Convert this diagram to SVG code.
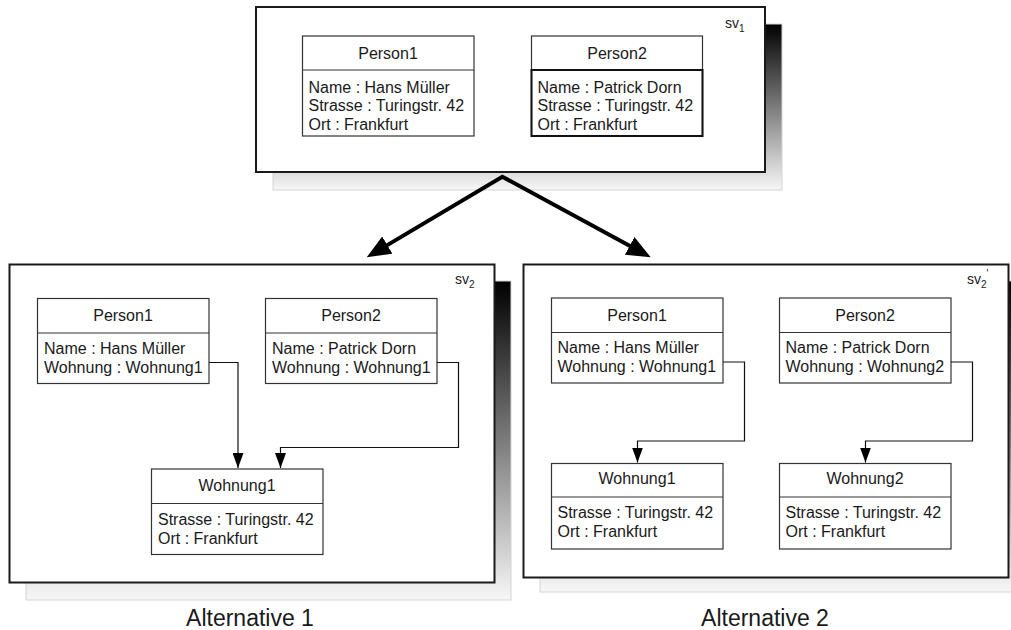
<svg xmlns="http://www.w3.org/2000/svg" width="1011" height="630" viewBox="0 0 1011 630">
  <style>
    text { font-family: "Liberation Sans", Arial, sans-serif; fill: #1a1a1a; }
    .t { font-size: 16px; }
    .c { text-anchor: middle; }
    .sv { font-size: 14px; }
    .sub { font-size: 10px; }
    .alt { font-size: 23px; text-anchor: middle; }
    .frame { fill: #fff; stroke: #1a1a1a; stroke-width: 2; }
    .shadow { fill: url(#shade); stroke: #d4d4d4; stroke-width: 1; }
    .box { fill: #fff; stroke: #333; stroke-width: 1.2; }
    .sel { fill: none; stroke: #111; stroke-width: 2; }
    .link { fill: none; stroke: #111; stroke-width: 1.2; marker-end: url(#head); }
    .big { fill: none; stroke: #000; stroke-width: 4; stroke-linejoin: miter; marker-start: url(#bighead); marker-end: url(#bighead); }
  </style>
  <defs>
    <linearGradient id="shade" x1="0" y1="0" x2="0" y2="1">
      <stop offset="0" stop-color="#000"/>
      <stop offset="1" stop-color="#f7f7f7"/>
    </linearGradient>
    <marker id="head" markerUnits="userSpaceOnUse" viewBox="0 0 15 11" markerWidth="15" markerHeight="11" refX="15" refY="5.5" orient="auto">
      <path d="M0,0 L15,5.5 L0,11 z" fill="#000"/>
    </marker>
    <marker id="bighead" markerUnits="userSpaceOnUse" viewBox="0 0 24 20" markerWidth="24" markerHeight="20" refX="2" refY="10" orient="auto-start-reverse">
      <path d="M0,0 L24,10 L0,20 z" fill="#000"/>
    </marker>
  </defs>

  <!-- state sv1 -->
  <g id="sv1">
    <rect class="shadow" x="273" y="24" width="509" height="166"/>
    <rect class="frame" x="256" y="7" width="509" height="165"/>
    <text class="sv" x="725" y="28">sv<tspan class="sub" dy="4">1</tspan></text>
  </g>
  <g id="sv1-person1">
    <rect class="box" x="302.5" y="36" width="171.5" height="100"/>
    <line class="box" x1="302.5" y1="70" x2="474" y2="70"/>
    <text class="t c" x="388" y="58.5">Person1</text>
    <text class="t" x="308.5" y="92.5">Name : Hans Müller</text>
    <text class="t" x="308.5" y="111">Strasse : Turingstr. 42</text>
    <text class="t" x="308.5" y="129.5">Ort : Frankfurt</text>
  </g>
  <g id="sv1-person2">
    <rect class="box" x="531.5" y="36" width="171" height="100"/>
    <rect class="sel" x="531.5" y="70" width="171" height="66"/>
    <text class="t c" x="617" y="58.5">Person2</text>
    <text class="t" x="537.5" y="92.5">Name : Patrick Dorn</text>
    <text class="t" x="537.5" y="111">Strasse : Turingstr. 42</text>
    <text class="t" x="537.5" y="129.5">Ort : Frankfurt</text>
  </g>

  <!-- state sv2 (Alternative 1) -->
  <g id="sv2">
    <rect class="shadow" x="26" y="281" width="485" height="319"/>
    <rect class="frame" x="9.5" y="264.5" width="485" height="318"/>
    <text class="sv" x="455" y="284">sv<tspan class="sub" dy="4">2</tspan></text>
  </g>
  <g id="sv2-person1">
    <rect class="box" x="37.5" y="298.5" width="171.5" height="85"/>
    <line class="box" x1="37.5" y1="333" x2="209" y2="333"/>
    <text class="t c" x="123" y="321">Person1</text>
    <text class="t" x="44" y="353.5">Name : Hans Müller</text>
    <text class="t" x="44" y="372.5">Wohnung : Wohnung1</text>
  </g>
  <g id="sv2-person2">
    <rect class="box" x="265.5" y="298.5" width="171.5" height="85"/>
    <line class="box" x1="265.5" y1="333" x2="437" y2="333"/>
    <text class="t c" x="351" y="321">Person2</text>
    <text class="t" x="272" y="353.5">Name : Patrick Dorn</text>
    <text class="t" x="272" y="372.5">Wohnung : Wohnung1</text>
  </g>
  <g id="sv2-wohnung1">
    <rect class="box" x="151.5" y="469" width="171.5" height="85.5"/>
    <line class="box" x1="151.5" y1="503.5" x2="323" y2="503.5"/>
    <text class="t c" x="237" y="491">Wohnung1</text>
    <text class="t" x="158" y="525">Strasse : Turingstr. 42</text>
    <text class="t" x="158" y="543.5">Ort : Frankfurt</text>
  </g>

  <!-- state sv2' (Alternative 2) -->
  <g id="sv2b">
    <rect class="shadow" x="540" y="281" width="485" height="311"/>
    <rect class="frame" x="523.5" y="264.5" width="485" height="313"/>
    <text class="sv" x="967" y="284">sv<tspan class="sub" dy="4">2</tspan><tspan class="sub" dy="-11">'</tspan></text>
  </g>
  <g id="sv2b-person1">
    <rect class="box" x="551.5" y="298" width="171.5" height="85"/>
    <line class="box" x1="551.5" y1="332.5" x2="723" y2="332.5"/>
    <text class="t c" x="637" y="320.5">Person1</text>
    <text class="t" x="557.5" y="352.5">Name : Hans Müller</text>
    <text class="t" x="557.5" y="371.5">Wohnung : Wohnung1</text>
  </g>
  <g id="sv2b-person2">
    <rect class="box" x="779.5" y="298" width="171.5" height="85"/>
    <line class="box" x1="779.5" y1="332.5" x2="951" y2="332.5"/>
    <text class="t c" x="865" y="320.5">Person2</text>
    <text class="t" x="785.5" y="352.5">Name : Patrick Dorn</text>
    <text class="t" x="785.5" y="371.5">Wohnung : Wohnung2</text>
  </g>
  <g id="sv2b-wohnung1">
    <rect class="box" x="551.5" y="463.5" width="171.5" height="85.5"/>
    <line class="box" x1="551.5" y1="497" x2="723" y2="497"/>
    <text class="t c" x="637" y="483.5">Wohnung1</text>
    <text class="t" x="557.5" y="518">Strasse : Turingstr. 42</text>
    <text class="t" x="557.5" y="536.5">Ort : Frankfurt</text>
  </g>
  <g id="sv2b-wohnung2">
    <rect class="box" x="779.5" y="463.5" width="171.5" height="85.5"/>
    <line class="box" x1="779.5" y1="497" x2="951" y2="497"/>
    <text class="t c" x="865" y="483.5">Wohnung2</text>
    <text class="t" x="785.5" y="518">Strasse : Turingstr. 42</text>
    <text class="t" x="785.5" y="536.5">Ort : Frankfurt</text>
  </g>

  <!-- connectors -->
  <g id="connectors">
    <path class="big" d="M385.6,246.1 L502.3,176.7 L631.4,246.8"/>
    <path class="link" d="M209,362.5 H238 V468"/>
    <path class="link" d="M437,362.5 H458.5 V447.5 H280.5 V468"/>
    <path class="link" d="M723,362 H744.5 V441 H637.5 V462.5"/>
    <path class="link" d="M951,362 H972.5 V441 H865.5 V462.5"/>
  </g>

  <!-- captions -->
  <text class="alt" x="250" y="626">Alternative 1</text>
  <text class="alt" x="765" y="626">Alternative 2</text>
</svg>
